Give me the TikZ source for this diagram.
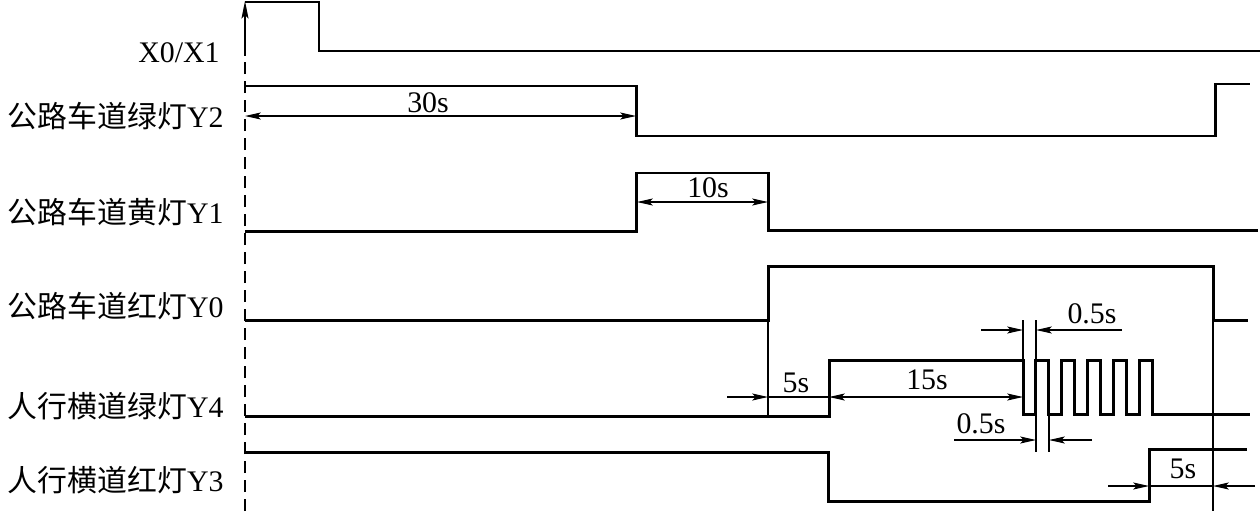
\documentclass[tikz,border=0pt]{standalone}
\usepackage{fontspec}
\setmainfont{Liberation Serif}
\newfontfamily\cjk{Noto Sans CJK SC}
\usetikzlibrary{arrows.meta}

\begin{document}
\begin{tikzpicture}[x=0.02cm,y=-0.02cm,
    sig/.style={line width=1.7pt},
    extline/.style={line width=0.6pt},
    dimline/.style={line width=0.6pt,-{Stealth[length=9pt,width=4pt,inset=2pt]}},
    dimboth/.style={line width=0.6pt,{Stealth[length=9pt,width=4pt,inset=2pt]}-{Stealth[length=9pt,width=4pt,inset=2pt]}},
    lbl/.style={anchor=base east,inner sep=0pt,font=\fontsize{17}{20}\selectfont},
    val/.style={anchor=base,inner sep=0pt,font=\fontsize{17}{20}\selectfont}]
    \useasboundingbox (0,0) rectangle (1260,511);

    \node[lbl] (x0)  at (220,62)  {X0/X1};
    \node[lbl] (y2)  at (224,127) {{\cjk 公路车道绿灯}Y2};
    \node[lbl] (y1)  at (224,223) {{\cjk 公路车道黄灯}Y1};
    \node[lbl] (y0)  at (224,317) {{\cjk 公路车道红灯}Y0};
    \node[lbl] (y4)  at (224,417) {{\cjk 人行横道绿灯}Y4};
    \node[lbl] (y3)  at (224,491) {{\cjk 人行横道红灯}Y3};

    \draw[line width=0.9pt,dash pattern=on 0.24cm off 0.14cm] (245,511) -- (245,55);
    \draw[line width=0.9pt,-{Stealth[length=10pt,width=4pt,inset=2pt]}] (245,55) -- (245,1);

    \draw[sig] (245,2) -- (319,2) -- (319,51) -- (1260,51);
    \draw[sig] (245,86) -- (636,86) -- (636,136) -- (1215,136) -- (1215,84) -- (1250,84);
    \draw[sig] (245,231) -- (636,231) -- (636,173) -- (768,173) -- (768,230) -- (1258,230);
    \draw[sig] (245,320) -- (768,320) -- (768,266) -- (1213,266) -- (1213,320) -- (1248,320);
    \draw[sig] (245,416) -- (829,416) -- (829,360) -- (1023,360)
        \foreach \i in {0,...,4}{ -- ++(0,54) -- ++(12.9,0) -- ++(0,-54) -- ++(12.9,0) }
        -- ++(0,54) -- (1250,414);
    \draw[sig] (245,452) -- (828,452) -- (828,501) -- (1149,501) -- (1149,449) -- (1247,449);

    \draw[extline] (768,320) -- (768,417);
    \draw[extline] (1213,320) -- (1213,511);
    \draw[extline] (1023,360) -- (1023,320);
    \draw[extline] (1036,320) -- (1036,452);
    \draw[extline] (1049,414) -- (1049,452);

    \draw[dimboth] (245,116) -- (636,116);
    \node[val] (t30) at (428,112) {30s};
    \draw[dimboth] (637,202) -- (768,202);
    \node[val] (t10) at (708,197) {10s};
    \draw[dimline] (727,397) -- (768,397);
    \draw[extline] (768,397) -- (829,397);
    \node[val] (t5a) at (796,392) {5s};
    \draw[dimboth] (829,397) -- (1023,397);
    \node[val] (t15) at (927,389) {15s};
    \draw[dimline] (981,330) -- (1023,330);
    \draw[dimline] (1122,330) -- (1036,330);
    \node[val] (th1) at (1092,323) {0.5s};
    \draw[dimline] (954,440) -- (1036,440);
    \draw[dimline] (1092,440) -- (1049,440);
    \node[val] (th2) at (981,433) {0.5s};
    \draw[dimline] (1108,486) -- (1149,486);
    \draw[extline] (1149,486) -- (1213,486);
    \draw[dimline] (1255,486) -- (1213,486);
    \node[val] (t5b) at (1183,478) {5s};
\end{tikzpicture}
\end{document}
